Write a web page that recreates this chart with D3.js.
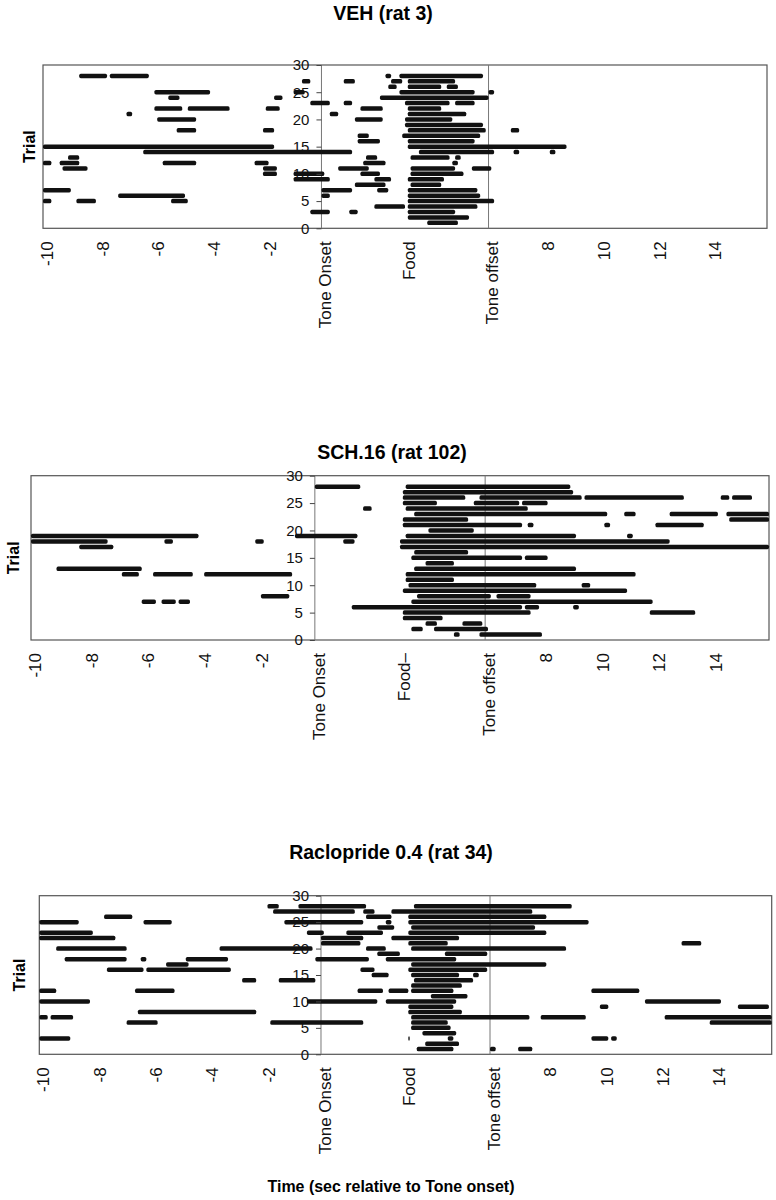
<!DOCTYPE html>
<html>
<head>
<meta charset="utf-8">
<title>Licking bouts per trial</title>
<script src="https://cdn.jsdelivr.net/npm/d3@7"></script>
<style>
body { margin: 0; background: #fff; }
svg { display: block; font-family: "Liberation Sans", Arial, Helvetica, sans-serif; }
</style>
</head>
<body>
<svg id="chart" width="776" height="1200"></svg>
<script>
// each bout: [trial, start, end], seconds relative to tone onset
const vehBouts = [
  [28, -8.7, -7.7], [28, -7.6, -6.2], [28, 2.3, 2.5], [28, 2.8, 5.8],
  [27, -0.7, -0.4], [27, 0.8, 1.2], [27, 2.5, 2.9], [27, 3.1, 4.8],
  [26, 2.4, 2.7], [26, 3.1, 4.3], [26, 4.5, 4.9],
  [25, -6.0, -4.0], [25, -1.0, -0.6], [25, 2.8, 5.5], [25, 6.0, 6.2],
  [24, -5.5, -5.1], [24, -1.7, -1.4], [24, 2.1, 6.0],
  [23, -0.4, 0.3], [23, 0.8, 1.1], [23, 3.0, 4.6], [23, 4.8, 5.5],
  [22, -6.0, -5.0], [22, -4.8, -3.3], [22, -2.0, -1.5], [22, 1.4, 2.2], [22, 3.1, 4.3],
  [21, -7.0, -6.8], [21, 0.3, 0.6], [21, 3.1, 5.2],
  [20, -5.9, -4.5], [20, 1.2, 2.2], [20, 3.0, 4.7],
  [19, 3.0, 5.8],
  [18, -5.2, -4.5], [18, -2.1, -1.7], [18, 3.1, 5.9], [18, 6.8, 7.1],
  [17, 1.3, 1.7], [17, 2.9, 5.7],
  [16, 1.3, 2.1], [16, 3.1, 5.5],
  [15, -10, -1.7], [15, 3.1, 8.8],
  [14, -6.4, 1.1], [14, 3.5, 6.2], [14, 6.9, 7.1], [14, 8.2, 8.4],
  [13, -9.1, -8.7], [13, 1.6, 2.0], [13, 3.2, 4.6], [13, 4.8, 5.0],
  [12, -10, -9.7], [12, -9.4, -8.7], [12, -5.7, -4.5], [12, -2.4, -1.9], [12, 1.5, 2.3], [12, 4.7, 4.9],
  [11, -9.3, -8.4], [11, -2.1, -1.6], [11, 0.6, 1.7], [11, 3.2, 4.8], [11, 5.4, 6.1],
  [10, -2.1, -1.6], [10, -1.0, 0.1], [10, 1.4, 2.1], [10, 3.2, 5.1],
  [9, -1.0, 0.3], [9, 1.9, 2.5], [9, 3.1, 4.4],
  [8, 1.2, 2.3], [8, 3.2, 4.3],
  [7, -10, -9.0], [7, 0.0, 1.1], [7, 2.0, 2.4], [7, 3.1, 5.6],
  [6, -7.3, -4.9], [6, 0.0, 0.3], [6, 3.1, 5.7],
  [5, -10, -9.7], [5, -8.8, -8.1], [5, -5.4, -4.8], [5, 3.1, 6.2],
  [4, 1.9, 3.0], [4, 3.1, 5.6],
  [3, -0.4, 0.3], [3, 1.0, 1.3], [3, 3.1, 4.8],
  [2, 3.1, 5.3],
  [1, 3.8, 4.9]
];

const schBouts = [
  [28, 0.0, 1.6], [28, 3.2, 9.0],
  [27, 3.1, 9.1],
  [26, 3.1, 5.3], [26, 5.8, 9.4], [26, 9.5, 13.0], [26, 14.3, 14.6], [26, 14.7, 15.4],
  [25, 3.1, 4.3], [25, 5.6, 7.2], [25, 7.3, 8.2],
  [24, 1.7, 2.0], [24, 3.2, 7.5],
  [23, 3.5, 10.3], [23, 10.9, 11.3], [23, 12.5, 14.2], [23, 14.5, 16],
  [22, 3.1, 5.4], [22, 14.6, 16],
  [21, 3.1, 7.3], [21, 7.5, 7.7], [21, 10.2, 10.4], [21, 12.0, 13.7],
  [20, 4.0, 5.6],
  [19, -10, -4.1], [19, -0.7, 1.5], [19, 3.2, 9.2], [19, 11.0, 11.2],
  [18, -10, -7.3], [18, -5.3, -5.0], [18, -2.1, -1.8], [18, 1.0, 1.4], [18, 3.0, 12.5],
  [17, -8.3, -7.1], [17, 3.0, 16],
  [16, 3.5, 5.4],
  [15, 3.4, 7.3], [15, 7.4, 8.2],
  [14, 3.9, 4.9],
  [13, -9.1, -6.1], [13, 3.5, 9.2],
  [12, -6.8, -6.2], [12, -5.7, -4.3], [12, -3.9, -0.8], [12, 3.2, 11.3],
  [11, 3.2, 4.9],
  [10, 3.3, 7.8], [10, 9.4, 9.7],
  [9, 3.1, 11.0],
  [8, -1.9, -0.9], [8, 3.6, 6.2], [8, 6.4, 7.6],
  [7, -6.1, -5.6], [7, -5.4, -4.9], [7, -4.8, -4.4], [7, 3.4, 11.9],
  [6, 1.3, 7.3], [6, 7.4, 7.9], [6, 9.1, 9.3],
  [5, 3.1, 7.6], [5, 11.8, 13.4],
  [4, 3.1, 4.5],
  [3, 3.9, 4.3], [3, 5.2, 5.9],
  [2, 3.4, 3.8], [2, 4.2, 6.1],
  [1, 4.9, 5.1], [1, 5.8, 8.0]
];

const racBouts = [
  [28, -1.9, -1.5], [28, -0.8, 1.6], [28, 3.3, 8.9],
  [27, -1.7, 1.2], [27, 1.5, 1.9], [27, 2.5, 7.5],
  [26, -7.7, -6.7], [26, 1.6, 2.5], [26, 3.1, 8.0],
  [25, -10, -8.6], [25, -6.3, -5.3], [25, -1.3, 1.5], [25, 2.3, 2.5], [25, 3.1, 9.5],
  [24, 2.0, 2.6], [24, 3.2, 7.6],
  [23, -10, -8.1], [23, -0.5, 0.1], [23, 0.9, 2.2], [23, 3.1, 8.0],
  [22, -10, -7.3], [22, 0.0, 1.5], [22, 2.5, 4.9],
  [21, 0.0, 1.4], [21, 3.1, 4.5], [21, 12.8, 13.5],
  [20, -9.4, -6.9], [20, -3.6, -0.3], [20, 1.6, 2.3], [20, 3.2, 8.7],
  [19, 2.0, 2.8], [19, 4.4, 5.9],
  [18, -9.1, -6.9], [18, -6.4, -6.2], [18, -4.8, -3.3], [18, -0.2, 1.7], [18, 2.3, 4.8],
  [17, -5.5, -4.7], [17, 3.2, 8.0],
  [16, -7.6, -6.3], [16, -6.2, -3.2], [16, 1.4, 1.9], [16, 3.1, 5.9],
  [15, 1.8, 2.4], [15, 3.2, 4.9], [15, 5.4, 5.6],
  [14, -2.8, -2.3], [14, -1.5, -0.2], [14, 3.3, 5.4],
  [13, 3.2, 5.0],
  [12, -10, -9.4], [12, -6.6, -5.2], [12, 1.3, 2.2], [12, 2.4, 3.1], [12, 3.2, 4.7], [12, 9.6, 11.3],
  [11, 3.9, 5.2],
  [10, -10, -8.2], [10, -0.5, 2.0], [10, 2.3, 4.8], [10, 11.5, 14.2],
  [9, 3.1, 4.7], [9, 9.9, 10.2], [9, 14.8, 15.9],
  [8, -6.5, -2.3], [8, 3.1, 5.0],
  [7, -10, -9.7], [7, -9.6, -8.8], [7, 3.2, 7.4], [7, 7.8, 9.4], [7, 12.2, 16],
  [6, -6.9, -5.8], [6, -1.8, 1.5], [6, 3.2, 4.5], [6, 13.8, 16],
  [5, 3.2, 4.6],
  [4, 3.6, 4.8],
  [3, -10, -8.9], [3, 3.1, 3.15], [3, 4.5, 4.7], [3, 9.6, 10.2], [3, 10.3, 10.5],
  [2, 3.7, 4.9],
  [1, 3.4, 4.7], [1, 6.0, 6.2], [1, 7.0, 7.5]
];

const xTicks = [-10, -8, -6, -4, -2, 0, 3, 6, 8, 10, 12, 14];
const xTickLabels = ["-10", "-8", "-6", "-4", "-2", "Tone Onset", "Food", "Tone offset", "8", "10", "12", "14"];
const xTickLabelsSch = ["-10", "-8", "-6", "-4", "-2", "Tone Onset", "Food\u2013", "Tone offset", "8", "10", "12", "14"];
const yTicks = [0, 5, 10, 15, 20, 25, 30];
const eventLines = [0, 6];   // tone onset, tone offset
const panelTitles = ["VEH (rat 3)", "SCH.16 (rat 102)", "Raclopride 0.4 (rat 34)"];

// layout of each panel (pixel boxes)
const panels = [
  { title: panelTitles[0], bouts: vehBouts, labels: xTickLabels,
    left: 43, right: 767, top: 65, bottom: 228.3, titleX: 383, titleY: 20, trialX: 29 },
  { title: panelTitles[1], bouts: schBouts, labels: xTickLabelsSch,
    left: 31, right: 769, top: 475.7, bottom: 640, titleX: 392, titleY: 459, trialX: 13 },
  { title: panelTitles[2], bouts: racBouts, labels: xTickLabels,
    left: 39.3, right: 771.7, top: 895.7, bottom: 1054.3, titleX: 391, titleY: 859, trialX: 19 }
];

const svg = d3.select("#chart");

panels.forEach(p => {
  const x = d3.scaleLinear().domain([-10, 16]).range([p.left, p.right]);
  const y = d3.scaleLinear().domain([0, 30]).range([p.bottom, p.top]);
  const g = svg.append("g");

  // title
  g.append("text")
    .attr("x", p.titleX).attr("y", p.titleY)
    .attr("text-anchor", "middle")
    .style("font-weight", "bold").style("font-size", "19.5px")
    .text(p.title);

  // plot frame
  g.append("rect")
    .attr("x", p.left).attr("y", p.top)
    .attr("width", p.right - p.left).attr("height", p.bottom - p.top)
    .attr("fill", "none").attr("stroke", "#555").attr("stroke-width", 1.2);

  // tone onset / offset markers
  g.selectAll("line.event").data(eventLines).join("line")
    .attr("class", "event")
    .attr("x1", d => x(d)).attr("x2", d => x(d))
    .attr("y1", p.top).attr("y2", p.bottom)
    .attr("stroke", "#777").attr("stroke-width", 1);

  // bouts
  const h = 4.5;
  g.selectAll("rect.bout").data(p.bouts).join("rect")
    .attr("class", "bout")
    .attr("x", d => x(d[1]))
    .attr("width", d => Math.max(1, x(d[2]) - x(d[1])))
    .attr("y", d => y(d[0]) - h / 2)
    .attr("height", h)
    .attr("rx", 1.6)
    .attr("fill", "#111");

  // y axis sits on tone onset
  const yAxis = g.append("g")
    .attr("transform", `translate(${x(0)},0)`)
    .call(d3.axisLeft(y).tickValues(yTicks).tickSize(5).tickPadding(7));
  yAxis.select(".domain").remove();
  yAxis.selectAll(".tick line").attr("stroke", "#444");
  yAxis.selectAll(".tick text")
    .style("font-size", "15px").attr("fill", "#111")
    .style("font-family", "'Liberation Sans', Arial, sans-serif");

  // x axis labels, rotated
  const xAxis = g.append("g")
    .attr("transform", `translate(0,${p.bottom})`)
    .call(d3.axisBottom(x).tickValues(xTicks).tickSize(0)
      .tickFormat((d, i) => p.labels[i]));
  xAxis.select(".domain").remove();
  xAxis.selectAll(".tick text")
    .attr("transform", "rotate(-90)")
    .attr("text-anchor", "end")
    .attr("x", -13)
    .attr("y", 3.5)
    .attr("dy", "0.35em")
    .style("font-size", "17px").attr("fill", "#111")
    .style("font-family", "'Liberation Sans', Arial, sans-serif");

  // y title
  g.append("text")
    .attr("transform", `translate(${p.trialX},${(p.top + p.bottom) / 2}) rotate(-90)`)
    .attr("text-anchor", "middle")
    .attr("dy", "0.35em")
    .style("font-weight", "bold").style("font-size", "16px")
    .text("Trial");
});

// shared x title
svg.append("text")
  .attr("x", 391).attr("y", 1192)
  .attr("text-anchor", "middle")
  .attr("textLength", 247).attr("lengthAdjust", "spacingAndGlyphs")
  .style("font-weight", "bold").style("font-size", "17px")
  .text("Time (sec relative to Tone onset)");
</script>
</body>
</html>
